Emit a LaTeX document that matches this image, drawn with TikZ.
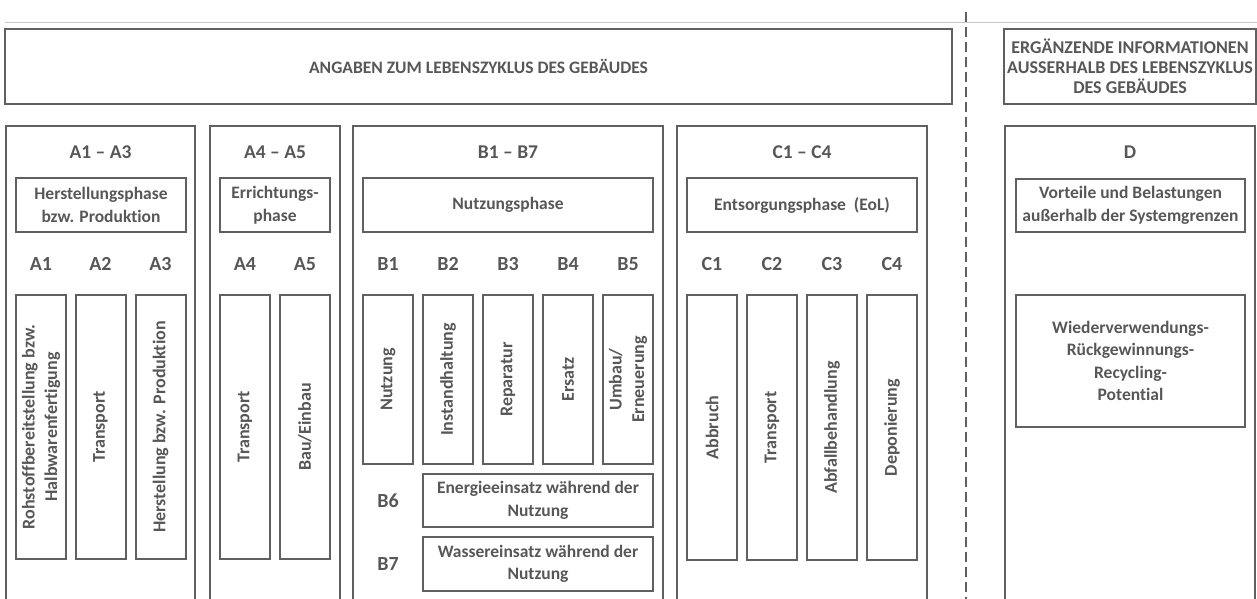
\documentclass[tikz,border=0pt]{standalone}
\usepackage{fontspec}
\setmainfont{Carlito}[Ligatures={NoCommon}]
\definecolor{txt}{HTML}{575757}
\definecolor{ln}{HTML}{606060}
\definecolor{rulegray}{HTML}{C8C8C8}
\tikzset{
  frame/.style={draw=ln, line width=2pt},
  bx/.style={draw=ln, line width=2pt, inner sep=0pt, text=txt, align=center,
    font=\bfseries\fontsize{17.5}{22.5}\selectfont},
  vbx/.style={bx, rotate=90, minimum height=50pt, font=\bfseries\fontsize{18}{22.5}\selectfont},
  ttl/.style={text=txt, inner sep=0pt, anchor=base, font=\bfseries\fontsize{19.5}{22}\selectfont},
  lbl/.style={text=txt, inner sep=0pt, anchor=base, font=\bfseries\fontsize{20}{24}\selectfont},
}
\begin{document}
\begin{tikzpicture}[x=1pt,y=-1pt]
\useasboundingbox (0,0) rectangle (1257,598);
\clip (0,0) rectangle (1257,598);
% thin top rule and dashed system boundary
\coordinate (ruleL) at (5,22);
\coordinate (ruleR) at (1257,22);
\draw[draw=rulegray, line width=1pt] (ruleL) -- (ruleR);
\coordinate (dashT) at (966,12);
\coordinate (dashB) at (966,600);
\draw[draw=ln, line width=2pt, dash pattern=on 10pt off 5pt] (dashT) -- (dashB);

% top headers
\node[bx, minimum width=947pt, minimum height=75pt, font=\bfseries\fontsize{17.5}{20}\selectfont] (head) at (478.5,66.5) {ANGABEN ZUM LEBENSZYKLUS DES GEB\"AUDES};
\node[bx, minimum width=252pt, minimum height=75pt, font=\bfseries\fontsize{18}{20}\selectfont] (headD) at (1130,66.5) {ERG\"ANZENDE INFORMATIONEN\\AUSSERHALB DES LEBENSZYKLUS\\DES GEB\"AUDES};

% column frames (open at the bottom)
\draw[frame] (6,605) |- (195,126) -- (195,605);
\draw[frame] (210,605) |- (340,126) -- (340,605);
\draw[frame] (353,605) |- (663,126) -- (663,605);
\draw[frame] (677,605) |- (927,126) -- (927,605);
\draw[frame] (1005,605) |- (1255,126) -- (1255,605);

% column titles
\node[ttl] (tA) at (100.5,158.5) {A1 -- A3};
\node[ttl] (tAA) at (275,158.5) {A4 -- A5};
\node[ttl] (tB) at (508,158.5) {B1 -- B7};
\node[ttl] (tC) at (802,158.5) {C1 -- C4};
\node[ttl] (tD) at (1130,158.5) {D};

% phase boxes
\node[bx, minimum width=170pt, minimum height=54pt] (pA) at (101,205) {Herstellungsphase\\bzw. Produktion};
\node[bx, minimum width=110pt, minimum height=54pt] (pAA) at (275,205) {Errichtungs-\\phase};
\node[bx, minimum width=290pt, minimum height=54pt] (pB) at (508,205) {Nutzungsphase};
\node[bx, minimum width=230pt, minimum height=54pt] (pC) at (802,205) {Entsorgungsphase\ \ (EoL)};
\node[bx, minimum width=229pt, minimum height=53pt] (pD) at (1130.5,205.5) {Vorteile und Belastungen\\au\ss erhalb der Systemgrenzen};

% module labels
\node[lbl] (lA1) at (41,270.5) {A1};
\node[lbl] (lA2) at (100.5,270.5) {A2};
\node[lbl] (lA3) at (160.5,270.5) {A3};
\node[lbl] (lA4) at (245,270.5) {A4};
\node[lbl] (lA5) at (305,270.5) {A5};
\node[lbl] (lB1) at (388,270.5) {B1};
\node[lbl] (lB2) at (448,270.5) {B2};
\node[lbl] (lB3) at (508,270.5) {B3};
\node[lbl] (lB4) at (568,270.5) {B4};
\node[lbl] (lB5) at (628,270.5) {B5};
\node[lbl] (lC1) at (712,270.5) {C1};
\node[lbl] (lC2) at (772,270.5) {C2};
\node[lbl] (lC3) at (832,270.5) {C3};
\node[lbl] (lC4) at (892,270.5) {C4};
\node[lbl] (lB6) at (388,507.5) {B6};
\node[lbl] (lB7) at (388,570.5) {B7};

% module boxes A
\node[vbx, minimum width=264pt] (mA1) at (41,427) {Rohstoffbereitstellung bzw.\\Halbwarenfertigung};
\node[vbx, minimum width=264pt] (mA2) at (100.5,427) {Transport};
\node[vbx, minimum width=264pt] (mA3) at (160.5,427) {Herstellung bzw. Produktion};
\node[vbx, minimum width=264pt] (mA4) at (245,427) {Transport};
\node[vbx, minimum width=264pt] (mA5) at (305,427) {Bau/Einbau};
% module boxes B
\node[vbx, minimum width=169pt] (mB1) at (388,379.5) {Nutzung};
\node[vbx, minimum width=169pt] (mB2) at (448,379.5) {Instandhaltung};
\node[vbx, minimum width=169pt] (mB3) at (508,379.5) {Reparatur};
\node[vbx, minimum width=169pt] (mB4) at (568,379.5) {Ersatz};
\node[vbx, minimum width=169pt] (mB5) at (628,379.5) {Umbau/\\Erneuerung};
\node[bx, minimum width=230pt, minimum height=53pt] (mB6) at (538,500.5) {Energieeinsatz w\"ahrend der\\Nutzung};
\node[bx, minimum width=230pt, minimum height=54pt] (mB7) at (538,564) {Wassereinsatz w\"ahrend der\\Nutzung};
% module boxes C
\node[vbx, minimum width=265pt] (mC1) at (712,427.5) {Abbruch};
\node[vbx, minimum width=265pt] (mC2) at (772,427.5) {Transport};
\node[vbx, minimum width=265pt] (mC3) at (832,427.5) {Abfallbehandlung};
\node[vbx, minimum width=265pt] (mC4) at (892,427.5) {Deponierung};
% module D
\node[bx, minimum width=229pt, minimum height=132pt] (mD) at (1130.5,361) {Wiederverwendungs-\\R\"uckgewinnungs-\\Recycling-\\Potential};
\end{tikzpicture}
\end{document}
